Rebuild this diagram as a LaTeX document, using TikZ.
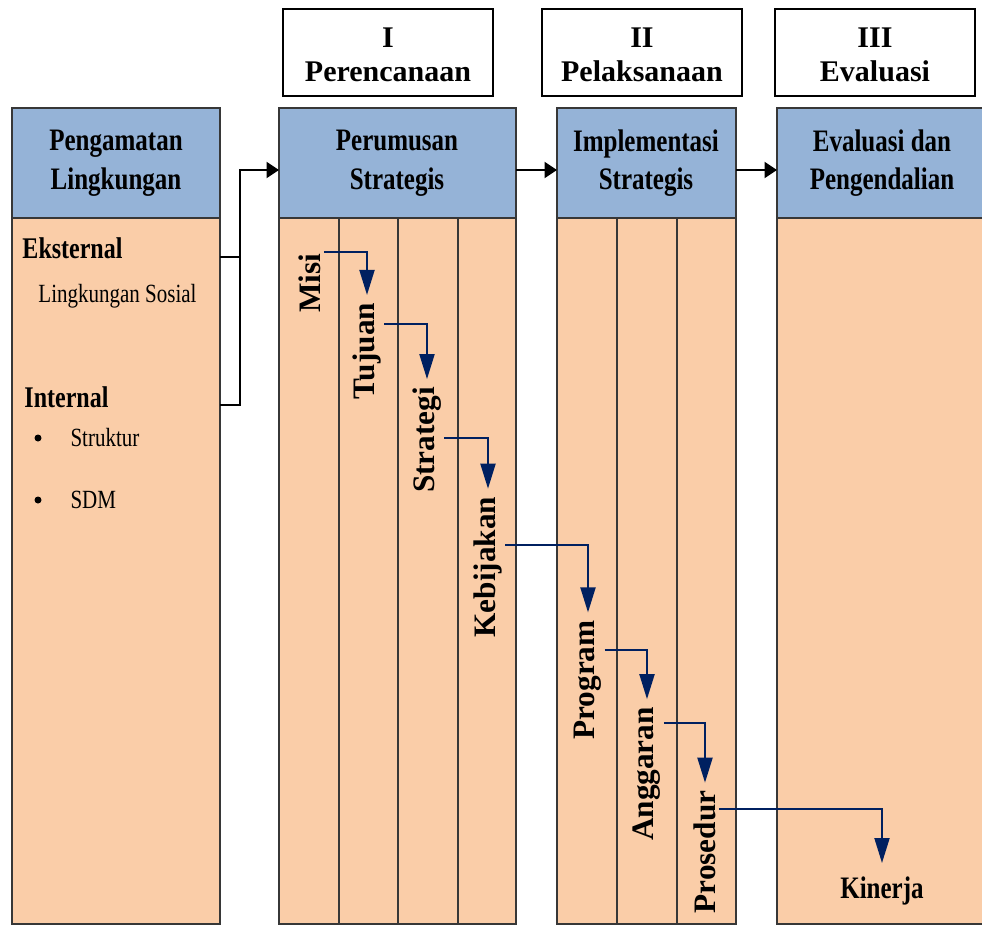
\documentclass[tikz,border=0pt]{standalone}
\usepackage{fontspec}
\setmainfont{Liberation Serif}
\newfontfamily\narrowfont[FakeStretch=0.8]{Liberation Serif}
\usetikzlibrary{arrows.meta}
\definecolor{headblue}{RGB}{149,179,215}
\definecolor{bodytan}{RGB}{250,205,168}
\definecolor{flowblue}{RGB}{0,32,96}
\definecolor{edgegray}{RGB}{55,55,55}

\begin{document}
\begin{tikzpicture}[x=0.4pt,y=-0.4pt]
	\tikzset{head/.style={draw=edgegray,fill=headblue,line width=0.8pt},
		body/.style={draw=edgegray,fill=bodytan,line width=0.8pt},
		phase/.style={draw=black,fill=white,line width=0.6pt},
		headtxt/.style={align=center,font=\narrowfont\bfseries\fontsize{12.5}{15.5}\selectfont},
		phasetxt/.style={align=center,font=\bfseries\fontsize{12}{13.5}\selectfont},
		item/.style={anchor=west,inner sep=0pt,font=\narrowfont\fontsize{10.5}{13}\selectfont},
		dot/.style={circle,fill=black,inner sep=0pt,minimum size=2.8pt},
		group/.style={anchor=west,inner sep=0pt,font=\narrowfont\bfseries\fontsize{12}{14}\selectfont},
		stage/.style={rotate=90,inner sep=1pt,font=\bfseries\fontsize{12.5}{15}\selectfont},
		conn/.style={black,line width=0.6pt},
		flow/.style={flowblue,line width=0.8pt,-{Triangle[length=10pt,width=6pt]},shorten >=2pt}}
	
	\useasboundingbox (0,0) rectangle (982,928);
	\clip (0,0) rectangle (982,928);
	
	% Phase boxes on top
	\draw[phase] (283,9) rectangle (493,96);
	\draw[phase] (542,9) rectangle (742,96);
	\draw[phase] (775,9) rectangle (975,96);
	\node[phasetxt] (plan) at (388,55) {I\\Perencanaan};
	\node[phasetxt] (exec) at (642,55) {II\\Pelaksanaan};
	\node[phasetxt] (eval) at (875,55) {III\\Evaluasi};
	
	% Column bodies
	\draw[body] (12,218) rectangle (220,924);
	\draw[body] (279,218) rectangle (516,924);
	\draw[body] (557,218) rectangle (736,924);
	\draw[body] (777,218) rectangle (988,924);
	
	% Inner column lines
	\foreach \x in {339,398,458,617,677}
	{
		\draw[body] (\x,218) -- (\x,924);
	}
	
	% Column headers
	\draw[head] (12,108) rectangle (220,218);
	\draw[head] (279,108) rectangle (516,218);
	\draw[head] (557,108) rectangle (736,218);
	\draw[head] (777,108) rectangle (988,218);
	\node[headtxt] (scan) at (116,163) {Pengamatan\\Lingkungan};
	\node[headtxt] (form) at (397,163) {Perumusan\\Strategis};
	\node[headtxt] (impl) at (646,163) {Implementasi\\Strategis};
	\node[headtxt] (ctrl) at (882,163) {Evaluasi dan\\Pengendalian};
	
	% Environment items
	\node[group] (eks) at (22,248) {Eksternal};
	\node[item] (sosial) at (38,296) {Lingkungan Sosial};
	\node[group] (int) at (24,397) {Internal};
	\node[dot] (bul1) at (38,438) {};
	\node[item] (struktur) at (70,438) {Struktur};
	\node[dot] (bul2) at (38,500) {};
	\node[item] (sdm) at (70,500) {SDM};
	
	% Connection points on the column edges
	\coordinate (eksout) at (220,257);
	\coordinate (intout) at (220,405);
	\coordinate (formin) at (279,170);
	\coordinate (formout) at (516,170);
	\coordinate (implin) at (557,170);
	\coordinate (implout) at (736,170);
	\coordinate (ctrlin) at (777,170);
	
	% Black arrows between columns
	\draw[conn] (eksout) -- ++(20,0);
	\draw[conn,-{Triangle[length=5pt,width=6.5pt]}] (intout) -- ++(20,0) |- (formin);
	\draw[conn,-{Triangle[length=5pt,width=6.5pt]}] (formout) -- (implin);
	\draw[conn,-{Triangle[length=5pt,width=6.5pt]}] (implout) -- (ctrlin);
	
	% Rotated stage labels
	\node[stage] (misi) at (310,283) {Misi};
	\node[stage] (tujuan) at (367,351) {Tujuan};
	\node[stage] (strategi) at (427,440) {Strategi};
	\node[stage] (kebijakan) at (488,567) {Kebijakan};
	\node[stage] (program) at (588,680) {Program};
	\node[stage] (anggaran) at (647,774) {Anggaran};
	\node[stage] (prosedur) at (705,852) {Prosedur};
	\node[font=\narrowfont\bfseries\fontsize{12.5}{15}\selectfont] (kinerja) at (882,891) {Kinerja};
	
	% Blue flow arrows
	\draw[flow] (misi.south east) ++(0,2) -| (tujuan.east);
	\draw[flow] (tujuan.south east) ++(0,24) -| (strategi.east);
	\draw[flow] (strategi.south east) ++(0,54) -| (kebijakan.east);
	\draw[flow] (kebijakan.south east) ++(0,51) -| (program.east);
	\draw[flow] (program.south east) ++(0,33) -| (anggaran.east);
	\draw[flow] (anggaran.south east) ++(0,19) -| (prosedur.east);
	\draw[flow] (prosedur.south east) ++(0,21) -| (kinerja.north);
	
\end{tikzpicture}
\end{document}
